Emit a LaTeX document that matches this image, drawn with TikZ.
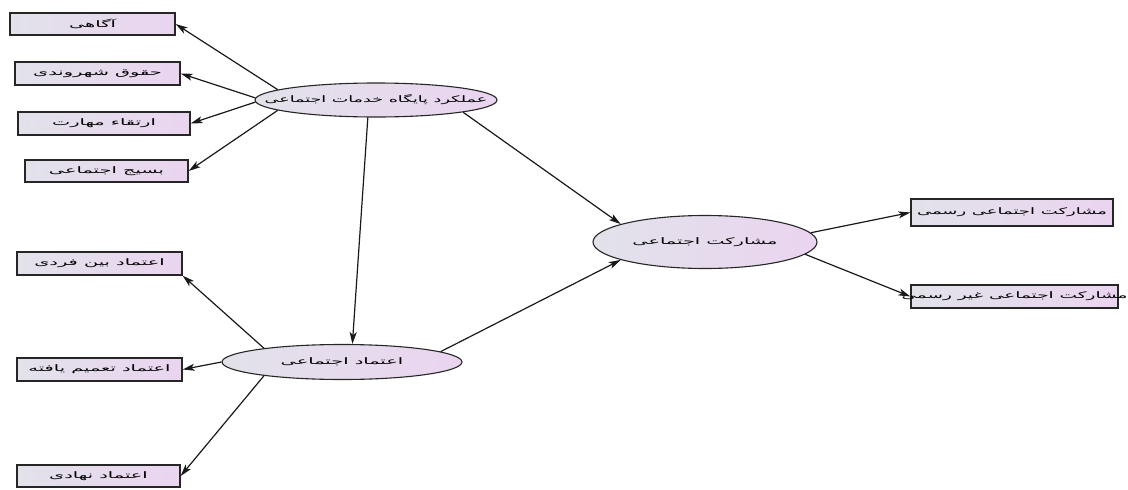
\documentclass[tikz,border=0pt]{standalone}
\usepackage{fontspec}
\usepackage{graphicx}
\newfontfamily\arabicfont[Script=Arabic]{DejaVu Sans}
\TeXXeTstate=1
\usetikzlibrary{shapes.geometric,arrows.meta}
\definecolor{lavL}{RGB}{226,226,234}
\definecolor{lavR}{RGB}{234,212,240}
\tikzset{
  ind/.style={rectangle, draw=black!85, line width=1.3pt, left color=lavL, right color=lavR,
    inner sep=0pt, font=\arabicfont\fontsize{9}{10}\selectfont},
  lat/.style={ellipse, draw=black!85, line width=1.1pt, left color=lavL, right color=lavR,
    inner sep=0pt, font=\arabicfont\fontsize{9}{10}\selectfont},
  arr/.style={-{Stealth[length=12pt,width=7pt,inset=3pt]}, line width=1.2pt, black!90}
}
\newcommand{\fa}[2][2.15]{\makebox[0pt]{\scalebox{#1}[1]{\beginR #2\endR}}}
\begin{document}
\begin{tikzpicture}[x=1pt,y=-1pt]
\useasboundingbox (0,0) rectangle (1128,490);
% latent
\node[lat, minimum width=242, minimum height=34] (e1) at (376,100) {\fa[1.95]{عملکرد پایگاه خدمات اجتماعی}};
\node[lat, minimum width=240, minimum height=35] (e2) at (342,362) {\fa{اعتماد اجتماعی}};
\node[lat, minimum width=224, minimum height=53] (e3) at (705,242) {\fa{مشارکت اجتماعی}};
% indicators
\node[ind, minimum width=165, minimum height=22] (a1) at (92.5,24) {\fa{آگاهی}};
\node[ind, minimum width=165, minimum height=23] (a2) at (97.5,73.5) {\fa{حقوق شهروندی}};
\node[ind, minimum width=172, minimum height=23] (a3) at (104,123.5) {\fa{ارتقاء مهارت}};
\node[ind, minimum width=163, minimum height=22] (a4) at (106.5,171) {\fa{بسیج اجتماعی}};
\node[ind, minimum width=165, minimum height=23] (b1) at (99.5,263.5) {\fa{اعتماد بین فردی}};
\node[ind, minimum width=165, minimum height=23] (b2) at (99.5,369.5) {\fa{اعتماد تعمیم یافته}};
\node[ind, minimum width=163, minimum height=22] (b3) at (98.5,476) {\fa{اعتماد نهادی}};
\node[ind, minimum width=202, minimum height=27] (c1) at (1012,212.5) {\fa[2.0]{مشارکت اجتماعی رسمی}};
\node[ind, minimum width=207, minimum height=23] (c2) at (1014.5,296.5) {\fa[2.05]{مشارکت اجتماعی غیر رسمی}};
% connectors
\draw[arr] (e1.174.6) -- (a1.east);
\draw[arr] (e1.179) -- (a2.east);
\draw[arr] (e1.181.5) -- (a3.east);
\draw[arr] (e1.186.8) -- (a4.east);
\draw[arr] (e1.245) -- (e2.60);
\draw[arr] (e1.352.5) -- (e3.168);
\draw[arr] (e2.6) -- (e3.192);
\draw[arr] (e2.170) -- (b1.south east);
\draw[arr] (e2.west) -- (b2.east);
\draw[arr] (e2.190) -- (b3.east);
\draw[arr] (e3.5) -- (c1.west);
\draw[arr] (e3.353) -- (c2.west);
\end{tikzpicture}
\end{document}
